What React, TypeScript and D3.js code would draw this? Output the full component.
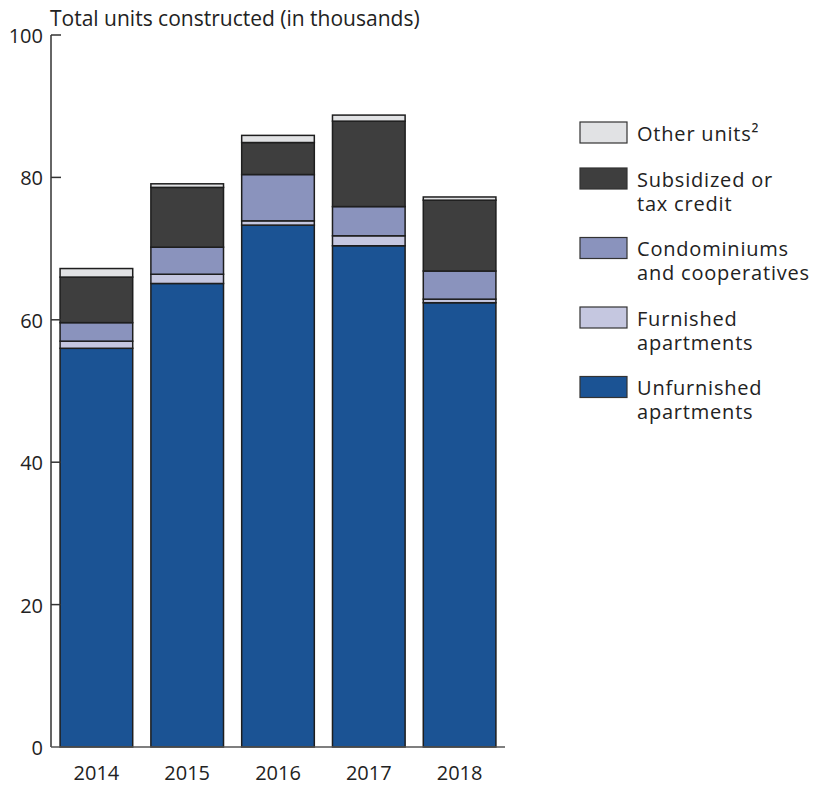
import React from "react";
import * as d3 from "d3";

const years = ["2014", "2015", "2016", "2017", "2018"];
const unfurnished = [56.0, 65.1, 73.3, 70.4, 62.4];
const furnished = [1.0, 1.3, 0.6, 1.4, 0.5];
const condos = [2.6, 3.8, 6.5, 4.1, 3.95];
const subsidized = [6.4, 8.4, 4.5, 12.0, 9.95];
const other = [1.2, 0.5, 1.0, 0.85, 0.45];
const yTicks = [0, 20, 40, 60, 80, 100];

const seriesKeys = ["unfurnished", "furnished", "condos", "subsidized", "other"];
const seriesColors: Record<string, string> = {
  unfurnished: "#1b5394",
  furnished: "#c5c7e0",
  condos: "#8a93bd",
  subsidized: "#3e3e3e",
  other: "#e1e2e4",
};
const legendItems = [
  { key: "other", lines: ["Other units²"] },
  { key: "subsidized", lines: ["Subsidized or", "tax credit"] },
  { key: "condos", lines: ["Condominiums", "and cooperatives"] },
  { key: "furnished", lines: ["Furnished", "apartments"] },
  { key: "unfurnished", lines: ["Unfurnished", "apartments"] },
];

const FONT = "'Open Sans', 'Noto Sans', sans-serif";

export default function App() {
  const W = 817, H = 787;
  const left = 51, right = 505, top = 35, bottom = 747;

  const table = years.map((y, i) => ({
    year: y,
    unfurnished: unfurnished[i],
    furnished: furnished[i],
    condos: condos[i],
    subsidized: subsidized[i],
    other: other[i],
  }));
  const stacked = d3.stack<any>().keys(seriesKeys)(table);

  const x = d3.scaleBand().domain(years).range([left, right]).paddingInner(0.2).paddingOuter(0.1);
  const y = d3.scaleLinear().domain([0, 100]).range([bottom, top]);

  let ly = 122;
  const legendPos = legendItems.map((it) => {
    const p = ly;
    ly += 22.5 + 23.5 * it.lines.length;
    return p;
  });

  return (
    <svg width={W} height={H} style={{ position: "absolute", left: 0, top: 0, background: "#fff" }}>
      <text x={50} y={26} fontFamily={FONT} fontSize={21} fill="#222">
        Total units constructed (in thousands)
      </text>
      {stacked.map((s) => (
        <g key={s.key}>
          {s.map((d, i) => (
            <rect
              key={i}
              x={x(years[i])!}
              width={x.bandwidth()}
              y={y(d[1])}
              height={Math.max(0, y(d[0]) - y(d[1]))}
              fill={seriesColors[s.key]}
              stroke="#1e1e1e"
              strokeWidth={1.5}
            />
          ))}
        </g>
      ))}
      <line x1={left} x2={left} y1={top} y2={bottom} stroke="#333" strokeWidth={1.5} />
      <line x1={left} x2={right} y1={bottom} y2={bottom} stroke="#555" strokeWidth={1.5} />
      {yTicks.map((t) => (
        <g key={t}>
          {t > 0 && <line x1={left} x2={left + 10} y1={y(t)} y2={y(t)} stroke="#333" strokeWidth={1.5} />}
          <text x={43} y={y(t)} dy="0.4em" textAnchor="end" fontFamily={FONT} fontSize={20} fill="#222">
            {t}
          </text>
        </g>
      ))}
      {years.map((yr) => (
        <text key={yr} x={x(yr)! + x.bandwidth() / 2} y={780} textAnchor="middle" fontFamily={FONT} fontSize={20} fill="#222">
          {yr}
        </text>
      ))}
      {legendItems.map((it, i) => (
        <g key={it.key} transform={`translate(580,${legendPos[i]})`}>
          <rect width={47} height={21} fill={seriesColors[it.key]} stroke="#333" strokeWidth={1.2} />
          {it.lines.map((ln, j) => (
            <text key={j} x={57} y={18.5 + j * 24.4} fontFamily={FONT} fontSize={20} letterSpacing={0.8} fill="#222">
              {ln}
            </text>
          ))}
        </g>
      ))}
    </svg>
  );
}
